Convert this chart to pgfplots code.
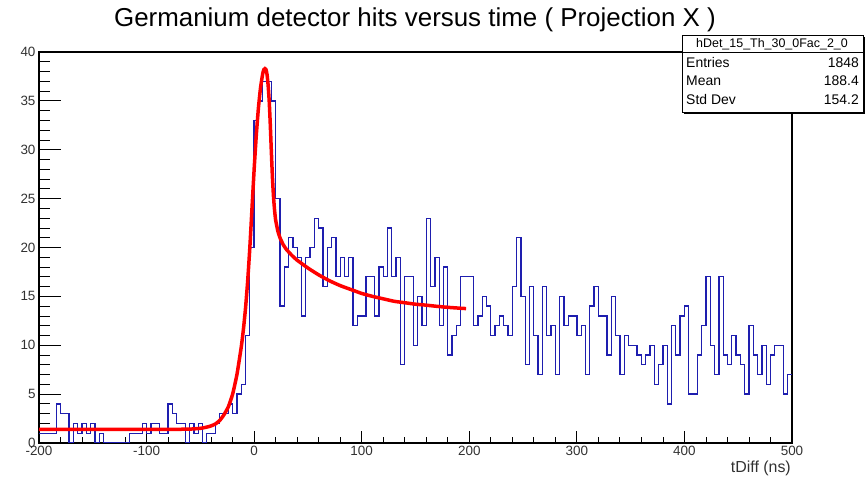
\documentclass[border=0pt]{standalone}
\usepackage{fontspec}
\setmainfont{Liberation Sans}
\usepackage{pgfplots}
\pgfplotsset{compat=1.18}
\usepackage{pgfplotstable}
\definecolor{histblue}{RGB}{30,30,175}
\definecolor{labgray}{RGB}{50,50,50}

% 4 ns bins, left edges; last row closes the final bin at 500
\pgfplotstableread{
t n
-200 1
-196 1
-192 1
-188 1
-184 4
-180 3
-176 3
-172 0
-168 2
-164 1
-160 2
-156 1
-152 2
-148 0
-144 1
-140 0
-136 0
-132 0
-128 0
-124 0
-120 0
-116 1
-112 1
-108 1
-104 2
-100 1
-96 2
-92 2
-88 1
-84 1
-80 4
-76 3
-72 2
-68 2
-64 0
-60 2
-56 1
-52 2
-48 0
-44 1
-40 1
-36 2
-32 3
-28 3
-24 4
-20 3
-16 5
-12 6
-8 11
-4 20
0 33
4 35
8 37
12 37
16 35
20 25
24 14
28 18
32 21
36 20
40 19
44 13
48 19
52 20
56 23
60 22
64 16
68 20
72 21
76 17
80 19
84 17
88 19
92 12
96 13
100 13
104 17
108 17
112 13
116 18
120 17
124 22
128 17
132 19
136 8
140 17
144 17
148 10
152 15
156 12
160 23
164 16
168 19
172 12
176 18
180 9
184 11
188 12
192 17
196 17
200 17
204 12
208 13
212 15
216 14
220 11
224 12
228 13
232 12
236 11
240 16
244 21
248 15
252 8
256 16
260 11
264 7
268 16
272 11
276 12
280 7
284 15
288 12
292 13
296 13
300 11
304 12
308 7
312 14
316 16
320 13
324 13
328 9
332 15
336 11
340 7
344 11
348 10
352 10
356 9
360 8
364 9
368 10
372 6
376 8
380 10
384 4
388 12
392 9
396 13
400 14
404 5
408 5
412 9
416 12
420 17
424 10
428 7
432 17
436 9
440 8
444 11
448 9
452 8
456 5
460 12
464 9
468 7
472 10
476 6
480 9
484 10
488 10
492 5
496 7
500 7
}\hist

\pgfplotstableread{
t f
-200 1.4
-80 1.4
-60 1.42
-50 1.5
-45 1.6
-40 1.75
-36 1.95
-32 2.3
-28 2.9
-24 3.7
-20 5.0
-16 7.0
-12 9.8
-10 11.6
-8 13.8
-6 16.6
-4 20.0
-2 24.0
0 28.0
2 31.5
4 34.3
6 36.4
8 37.8
9 38.2
10 38.3
11 38.2
12 37.7
13 36.6
14 35.0
15 32.6
16 29.8
17 27.2
18 25.2
19 23.8
20 22.8
22 21.7
24 21.0
27 20.3
30 19.8
35 19.2
40 18.7
50 17.9
60 17.2
70 16.6
80 16.1
90 15.7
100 15.3
110 15.0
120 14.75
130 14.5
140 14.35
150 14.2
160 14.1
170 13.98
180 13.88
190 13.8
197 13.75
}\fitcurve

\pgfplotsset{
  rootframe/.style={
    at={(39bp,36bp)}, anchor=south west,
    scale only axis, width=753bp, height=391bp,
    xmin=-200, xmax=500, ymin=0, ymax=40,
    tick align=inside, xtick pos=left, ytick pos=left,
    tick style={black, line width=0.8bp},
    ticklabel style={font=\fontsize{13.5}{14}\selectfont, text=labgray},
  }
}

\begin{document}
\begin{tikzpicture}
\path[use as bounding box] (0bp,0bp) rectangle (866bp,479bp);
% y ticks (longer ticks, as in ROOT)
\begin{axis}[rootframe,
  axis line style={draw=none},
  xtick=\empty,
  ytick={0,5,...,40},
  yticklabels={0,5,10,15,20,25,30,35,40},
  minor y tick num=4,
  major tick length=22bp, minor tick length=11bp,
]
\end{axis}
% main axis with the data and x ticks
\begin{axis}[rootframe,
  axis line style={line width=1.2bp},
  xtick={-200,-100,...,500},
  xticklabels={-200,-100,0,100,200,300,400,500},
  minor x tick num=4,
  ytick=\empty,
  major tick length=12bp, minor tick length=6bp,
  clip=true,
]
\addplot[const plot, histblue, line width=1.3bp] table[x=t, y=n] {\hist};
\addplot[red, line width=3.5bp, smooth, tension=0.3] table[x=t, y=f] {\fitcurve};
\end{axis}
% title
\node[anchor=base, font=\fontsize{26}{26}\selectfont] at (415bp,452bp) {Germanium detector hits versus time ( Projection X )};
% x label
\node[anchor=base east, font=\fontsize{16}{16}\selectfont, text=labgray, inner sep=0pt] at (791bp,7bp) {tDiff (ns)};
% stats box
\fill[black] (684bp,365bp) rectangle (865bp,442bp);
\filldraw[fill=white, draw=black, line width=0.8bp] (682bp,367bp) rectangle (863bp,444bp);
\draw[line width=0.8bp] (682bp,427bp) -- (863bp,427bp);
\node[anchor=base, font=\fontsize{12.5}{13}\selectfont, inner sep=0pt] at (772bp,431bp) {hDet\_15\_Th\_30\_0Fac\_2\_0};
\node[anchor=base west, font=\fontsize{14}{14}\selectfont, inner sep=0pt] at (686bp,411bp) {Entries};
\node[anchor=base east, font=\fontsize{14}{14}\selectfont, inner sep=0pt] at (859bp,411bp) {1848};
\node[anchor=base west, font=\fontsize{14}{14}\selectfont, inner sep=0pt] at (686bp,393bp) {Mean};
\node[anchor=base east, font=\fontsize{14}{14}\selectfont, inner sep=0pt] at (859bp,393bp) {188.4};
\node[anchor=base west, font=\fontsize{14}{14}\selectfont, inner sep=0pt] at (686bp,374bp) {Std Dev};
\node[anchor=base east, font=\fontsize{14}{14}\selectfont, inner sep=0pt] at (859bp,374bp) {154.2};
\end{tikzpicture}
\end{document}
